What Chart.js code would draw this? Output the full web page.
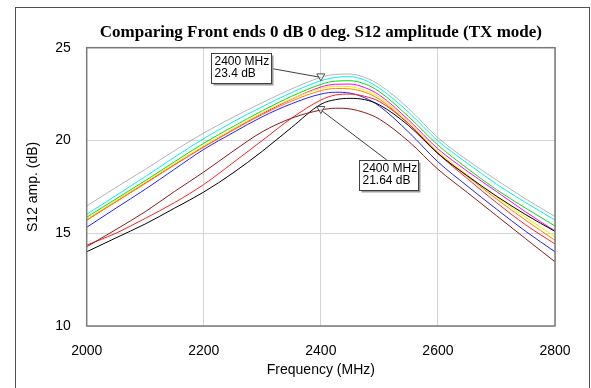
<!DOCTYPE html>
<html><head><meta charset="utf-8">
<script src="https://cdn.jsdelivr.net/npm/chart.js@4"></script>
<style>html,body{margin:0;padding:0;background:#fff;overflow:hidden}#wrap{width:591px;height:388px;position:relative}</style>
</head><body><div id="wrap"><canvas id="c" width="591" height="388"></canvas></div>
<script>
const titleText = 'Comparing Front ends 0 dB 0 deg. S12 amplitude (TX mode)';
const xTitle = 'Frequency (MHz)';
const yTitle = 'S12 amp. (dB)';
const freqs = [2000,2050,2100,2150,2200,2250,2300,2350,2400,2425,2450,2475,2500,2550,2600,2650,2700,2750,2800];
const grayS    = [16.47,17.47,18.44,19.45,20.40,21.25,22.04,22.78,23.40,23.56,23.58,23.40,23.00,21.72,20.15,18.95,17.87,16.85,15.90];
const cyanS    = [16.02,17.03,18.05,19.10,20.10,21.00,21.82,22.58,23.22,23.40,23.44,23.25,22.82,21.52,19.98,18.78,17.65,16.65,15.71];
const greenS   = [15.86,16.85,17.83,18.85,19.85,20.75,21.60,22.38,23.02,23.20,23.22,23.05,22.63,21.28,19.75,18.50,17.35,16.35,15.39];
const magentaS = [15.71,16.70,17.70,18.70,19.66,20.58,21.45,22.22,22.88,23.03,23.04,22.85,22.45,21.10,19.55,18.35,17.25,16.15,15.12];
const yellowS  = [15.76,16.76,17.76,18.76,19.72,20.63,21.50,22.24,22.80,22.92,22.90,22.70,22.33,21.00,19.40,18.15,16.95,15.85,14.82];
const orangeS  = [15.70,16.70,17.68,18.68,19.64,20.55,21.40,22.12,22.68,22.80,22.78,22.60,22.22,20.90,19.32,18.07,16.85,15.70,14.62];
const blueS    = [15.32,16.35,17.37,18.45,19.52,20.42,21.28,21.98,22.50,22.60,22.55,22.30,21.85,20.45,18.85,17.55,16.30,15.10,14.00];
const redS     = [14.36,15.00,15.80,16.65,17.63,18.80,20.00,21.20,22.18,22.45,22.50,22.38,22.10,20.90,19.30,17.95,16.65,15.45,14.42];
const blackS   = [14.00,14.75,15.50,16.35,17.22,18.25,19.42,20.70,21.95,22.20,22.27,22.20,21.92,20.80,19.30,18.10,17.00,16.00,15.10];
const brownS   = [14.27,15.20,16.16,17.25,18.30,19.42,20.47,21.20,21.64,21.74,21.70,21.50,21.15,19.95,18.45,17.20,15.95,14.70,13.46];
const seriesList = [brownS, blackS, redS, blueS, orangeS, yellowS, magentaS, greenS, cyanS, grayS];
const seriesColors = ['#8b1a1a','#000000','#ff2020','#2020ff','#ff8000','#f0f000','#ff00ff','#00e000','#00f0f0','#b4b4b4'];
const markerFreq = 2400;
const markers = [
  {series: grayS, value: 23.4, lines: ['2400 MHz','23.4 dB'], box: [-110, -24, 60, 30], anchor: [-50, -9]},
  {series: brownS, value: 21.64, lines: ['2400 MHz','21.64 dB'], box: [38, 50, 59, 30], anchor: [66, 50]}
];
const xTicks = [2000, 2200, 2400, 2600, 2800];
const yTicks = [10, 15, 20, 25];

const decor = {
  id: 'decor',
  beforeDraw(chart) {
    const ctx = chart.ctx;
    ctx.save();
    ctx.fillStyle = '#fff';
    ctx.fillRect(0, 0, chart.width, chart.height);
    ctx.strokeStyle = '#505050';
    ctx.lineWidth = 1;
    ctx.strokeRect(15.5, 7.5, 574, 400);
    ctx.restore();
  },
  afterDatasetsDraw(chart) {
    const ctx = chart.ctx, a = chart.chartArea;
    const xs = chart.scales.x, ys = chart.scales.y;
    ctx.save();
    ctx.strokeStyle = '#7a7a7a';
    ctx.lineWidth = 1.5;
    ctx.strokeRect(a.left, a.top, a.right - a.left, a.bottom - a.top);
    markers.forEach(m => {
      const px = xs.getPixelForValue(markerFreq);
      const py = ys.getPixelForValue(m.value);
      ctx.strokeStyle = '#404040';
      ctx.lineWidth = 1;
      ctx.beginPath();
      ctx.moveTo(px + m.anchor[0], py + m.anchor[1]);
      ctx.lineTo(px, py);
      ctx.stroke();
      ctx.strokeStyle = '#505050';
      ctx.fillStyle = 'rgba(255,255,255,0.6)';
      ctx.beginPath();
      ctx.moveTo(px - 4, py - 3.5);
      ctx.lineTo(px + 4, py - 3.5);
      ctx.lineTo(px, py + 3.5);
      ctx.closePath();
      ctx.fill();
      ctx.stroke();
      const bx = Math.round(px + m.box[0]) + 0.5, by = Math.round(py + m.box[1]) + 0.5;
      const bw = m.box[2], bh = m.box[3];
      ctx.fillStyle = '#9a9a9a';
      ctx.fillRect(bx + 2, by + 2, bw, bh);
      ctx.fillStyle = '#fff';
      ctx.fillRect(bx, by, bw, bh);
      ctx.strokeStyle = '#404040';
      ctx.strokeRect(bx, by, bw, bh);
      ctx.fillStyle = '#000';
      ctx.font = '12px "Liberation Sans", Arial, sans-serif';
      ctx.textBaseline = 'middle';
      ctx.textAlign = 'left';
      ctx.fillText(m.lines[0], bx + 3, by + 8);
      ctx.fillText(m.lines[1], bx + 3, by + 20.5);
    });
    ctx.restore();
  },
  afterDraw(chart) {
    const ctx = chart.ctx, a = chart.chartArea;
    ctx.save();
    ctx.fillStyle = '#000';
    ctx.font = 'bold 17px "Liberation Serif", "Times New Roman", serif';
    ctx.textAlign = 'center';
    ctx.textBaseline = 'middle';
    ctx.fillText(titleText, (a.left + a.right) / 2, 33);
    ctx.restore();
  }
};

const datasets = seriesList.map((s, i) => ({
  data: freqs.map((f, j) => ({x: f, y: s[j]})),
  borderColor: seriesColors[i],
  borderWidth: 1,
  pointRadius: 0,
  fill: false,
  cubicInterpolationMode: 'monotone'
}));

new Chart(document.getElementById('c'), {
  type: 'line',
  data: {datasets},
  options: {
    responsive: false,
    animation: false,
    devicePixelRatio: 1,
    layout: {padding: {left: 20, right: 36, top: 47.7, bottom: 0}},
    plugins: {legend: {display: false}, tooltip: {enabled: false}, title: {display: false}},
    scales: {
      x: {
        type: 'linear', min: 2000, max: 2800,
        afterBuildTicks: s => { s.ticks = xTicks.map(v => ({value: v})); },
        afterFit: s => { s.height = 62; },
        ticks: {color: '#000', font: {family: '"Liberation Sans", Arial, sans-serif', size: 14}, padding: 17, maxRotation: 0, callback: v => String(v)},
        grid: {color: '#d4d4d4', drawTicks: false},
        border: {display: false},
        title: {display: true, text: xTitle, color: '#000', font: {family: '"Liberation Sans", Arial, sans-serif', size: 14}, padding: {top: 0, bottom: 9.6}}
      },
      y: {
        min: 10, max: 25,
        afterBuildTicks: s => { s.ticks = yTicks.map(v => ({value: v})); },
        afterFit: s => { s.width = 66.7; },
        ticks: {color: '#000', font: {family: '"Liberation Sans", Arial, sans-serif', size: 14}, padding: 16, callback: v => String(v)},
        grid: {color: '#d4d4d4', drawTicks: false},
        border: {display: false},
        title: {display: true, text: yTitle, color: '#000', font: {family: '"Liberation Sans", Arial, sans-serif', size: 14}, padding: {top: 4.6, bottom: 0}}
      }
    }
  },
  plugins: [decor]
});
</script>
</body></html>
